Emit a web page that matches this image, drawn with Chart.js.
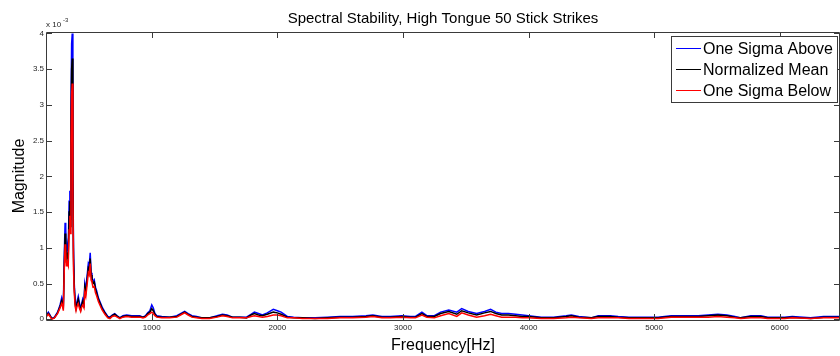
<!DOCTYPE html>
<html>
<head>
<meta charset="utf-8">
<title>Spectral Stability</title>
<script src="https://cdn.jsdelivr.net/npm/chart.js@4.4.1/dist/chart.umd.min.js"></script>
<style>
  html, body { margin: 0; padding: 0; background: #fff; }
  #wrap { width: 840px; height: 356px; }
</style>
</head>
<body>
<div id="wrap"><canvas id="spectrum" width="840" height="356"></canvas></div>
<script>
  // frequency bins (Hz) and magnitudes in units of 1e-3
  var freqHz = [
    158, 177, 190, 204, 225, 250, 270, 283, 290, 296,
    304, 310, 315, 320, 325, 330, 335, 342, 348, 352,
    357, 362, 367, 372, 377, 383, 390, 397, 405, 415,
    425, 434, 442, 450, 460, 467, 475, 485, 495, 502,
    510, 517, 524, 532, 542, 552, 561, 575, 587, 605,
    627, 650, 667, 685, 705, 725, 746, 770, 800, 840,
    880, 905, 930, 950, 968, 985, 1000, 1012, 1025, 1040,
    1080, 1143, 1200, 1240, 1262, 1290, 1320, 1357, 1400, 1460,
    1520, 1563, 1600, 1643, 1700, 1754, 1790, 1817, 1850, 1881,
    1920, 1968, 2000, 2030, 2079, 2130, 2200, 2300, 2400, 2500,
    2600, 2706, 2760, 2833, 2900, 2992, 3060, 3100, 3151, 3190,
    3250, 3300, 3365, 3429, 3468, 3520, 3587, 3650, 3698, 3740,
    3786, 3840, 3897, 3950, 4000, 4100, 4200, 4300, 4341, 4400,
    4500, 4555, 4650, 4714, 4800, 4900, 5032, 5135, 5250, 5350,
    5430, 5508, 5580, 5643, 5690, 5770, 5849, 5905, 6040, 6100,
    6246, 6350, 6480
  ];

  var sigmaAbove = [
    0.05, 0.10, 0.06, 0.01, 0.03, 0.10, 0.20, 0.30, 0.25, 0.18,
    0.93, 1.35, 1.30, 0.85, 0.98, 1.05, 0.95, 1.65, 1.80, 1.40,
    2.95, 3.85, 4.00, 2.15, 1.00, 0.50, 0.25, 0.18, 0.25, 0.32,
    0.22, 0.15, 0.22, 0.28, 0.22, 0.50, 0.42, 0.60, 0.78, 0.75,
    0.93, 0.65, 0.60, 0.52, 0.55, 0.45, 0.40, 0.30, 0.25, 0.17,
    0.10, 0.04, 0.03, 0.06, 0.08, 0.05, 0.02, 0.05, 0.06, 0.05,
    0.05, 0.05, 0.03, 0.05, 0.09, 0.12, 0.20, 0.16, 0.08, 0.05,
    0.04, 0.03, 0.05, 0.09, 0.11, 0.08, 0.05, 0.04, 0.02, 0.02,
    0.05, 0.07, 0.06, 0.03, 0.03, 0.03, 0.07, 0.10, 0.08, 0.06,
    0.09, 0.14, 0.12, 0.10, 0.04, 0.03, 0.02, 0.02, 0.03, 0.04,
    0.04, 0.05, 0.06, 0.04, 0.04, 0.05, 0.04, 0.04, 0.10, 0.05,
    0.05, 0.10, 0.13, 0.10, 0.15, 0.11, 0.08, 0.11, 0.14, 0.10,
    0.08, 0.08, 0.07, 0.06, 0.05, 0.03, 0.03, 0.05, 0.06, 0.04,
    0.02, 0.05, 0.05, 0.04, 0.03, 0.03, 0.03, 0.05, 0.05, 0.05,
    0.06, 0.07, 0.06, 0.04, 0.02, 0.05, 0.05, 0.03, 0.03, 0.04,
    0.02, 0.04, 0.04
  ];

  var normMean = [
    0.04, 0.08, 0.05, 0.01, 0.02, 0.09, 0.18, 0.26, 0.22, 0.15,
    0.80, 1.20, 1.15, 0.80, 0.90, 0.92, 0.85, 1.50, 1.65, 1.30,
    2.70, 3.50, 3.65, 1.95, 0.85, 0.45, 0.22, 0.15, 0.22, 0.28,
    0.18, 0.13, 0.20, 0.25, 0.20, 0.45, 0.38, 0.55, 0.72, 0.70,
    0.85, 0.62, 0.57, 0.50, 0.52, 0.42, 0.37, 0.28, 0.23, 0.15,
    0.09, 0.03, 0.02, 0.05, 0.07, 0.04, 0.02, 0.04, 0.05, 0.04,
    0.04, 0.04, 0.03, 0.04, 0.08, 0.10, 0.15, 0.12, 0.07, 0.04,
    0.03, 0.03, 0.04, 0.08, 0.10, 0.07, 0.04, 0.03, 0.02, 0.02,
    0.04, 0.06, 0.05, 0.03, 0.03, 0.02, 0.06, 0.08, 0.06, 0.05,
    0.07, 0.10, 0.09, 0.07, 0.03, 0.02, 0.02, 0.01, 0.02, 0.03,
    0.03, 0.04, 0.05, 0.03, 0.03, 0.04, 0.03, 0.03, 0.08, 0.04,
    0.04, 0.08, 0.11, 0.07, 0.12, 0.09, 0.06, 0.09, 0.11, 0.08,
    0.06, 0.06, 0.05, 0.04, 0.04, 0.02, 0.02, 0.04, 0.05, 0.03,
    0.02, 0.04, 0.04, 0.03, 0.02, 0.02, 0.02, 0.04, 0.04, 0.04,
    0.05, 0.06, 0.05, 0.03, 0.02, 0.04, 0.04, 0.02, 0.02, 0.03,
    0.01, 0.03, 0.03
  ];

  var sigmaBelow = [
    0.03, 0.07, 0.04, 0.00, 0.02, 0.08, 0.16, 0.22, 0.18, 0.12,
    0.72, 1.05, 0.95, 0.75, 0.80, 0.78, 0.75, 1.25, 1.45, 1.20,
    2.40, 3.15, 3.30, 1.75, 0.70, 0.38, 0.18, 0.12, 0.18, 0.22,
    0.15, 0.11, 0.17, 0.20, 0.16, 0.38, 0.32, 0.48, 0.65, 0.62,
    0.78, 0.55, 0.52, 0.45, 0.46, 0.37, 0.33, 0.25, 0.20, 0.13,
    0.07, 0.02, 0.01, 0.04, 0.05, 0.03, 0.01, 0.03, 0.04, 0.03,
    0.03, 0.03, 0.02, 0.03, 0.06, 0.08, 0.10, 0.08, 0.05, 0.03,
    0.02, 0.02, 0.03, 0.07, 0.09, 0.06, 0.03, 0.02, 0.01, 0.01,
    0.03, 0.05, 0.04, 0.02, 0.02, 0.02, 0.04, 0.05, 0.04, 0.03,
    0.04, 0.06, 0.06, 0.05, 0.02, 0.02, 0.01, 0.01, 0.01, 0.02,
    0.02, 0.03, 0.04, 0.02, 0.02, 0.03, 0.02, 0.02, 0.06, 0.03,
    0.02, 0.05, 0.08, 0.04, 0.09, 0.06, 0.03, 0.05, 0.07, 0.05,
    0.03, 0.03, 0.03, 0.02, 0.02, 0.01, 0.01, 0.02, 0.03, 0.02,
    0.01, 0.02, 0.02, 0.02, 0.01, 0.01, 0.01, 0.03, 0.03, 0.03,
    0.03, 0.04, 0.03, 0.02, 0.01, 0.02, 0.02, 0.01, 0.01, 0.02,
    0.01, 0.02, 0.02
  ];

  var xTickValues = [1000, 2000, 3000, 4000, 5000, 6000];
  var yTickValues = [0, 0.5, 1, 1.5, 2, 2.5, 3, 3.5, 4];

  var seriesNames = ["One Sigma Above", "Normalized Mean", "One Sigma Below"];
  var seriesColors = ["#0000ff", "#000000", "#ff0000"];

  var FONT = '"Liberation Sans", Arial, Helvetica, sans-serif';
  var AXIS_COLOR = "#3a3a3a";

  function toPoints(values) {
    return freqHz.map(function (f, i) { return { x: f, y: values[i] }; });
  }

  // MATLAB-ish box with inward ticks, legend, titles
  var decorations = {
    id: "decorations",
    afterDatasetsDraw: function (chart) {
      var ctx = chart.ctx;
      var a = chart.chartArea;
      var xs = chart.scales.x, ys = chart.scales.y;
      var tick = 6;

      ctx.save();
      ctx.strokeStyle = AXIS_COLOR;
      ctx.lineWidth = 1;
      ctx.beginPath();
      ctx.moveTo(a.left + 0.5, a.top + 0.5);
      ctx.lineTo(a.right - 0.5, a.top + 0.5);
      ctx.lineTo(a.right - 0.5, a.bottom + 0.5);
      ctx.lineTo(a.left + 0.5, a.bottom + 0.5);
      ctx.closePath();

      xTickValues.forEach(function (v) {
        var px = Math.round(xs.getPixelForValue(v)) + 0.5;
        ctx.moveTo(px, a.bottom);
        ctx.lineTo(px, a.bottom - tick);
        ctx.moveTo(px, a.top);
        ctx.lineTo(px, a.top + tick);
      });
      yTickValues.forEach(function (v) {
        var py = Math.round(ys.getPixelForValue(v)) + 0.5;
        ctx.moveTo(a.left, py);
        ctx.lineTo(a.left + tick, py);
        ctx.moveTo(a.right, py);
        ctx.lineTo(a.right - tick, py);
      });
      ctx.stroke();

      // legend box in the upper right corner
      var lx = 671.5, ly = 36.5, lw = 166, lh = 66;
      ctx.fillStyle = "#ffffff";
      ctx.fillRect(lx, ly, lw, lh);
      ctx.strokeStyle = AXIS_COLOR;
      ctx.strokeRect(lx, ly, lw, lh);
      ctx.font = "16px " + FONT;
      ctx.textAlign = "left";
      ctx.textBaseline = "alphabetic";
      seriesNames.forEach(function (name, i) {
        var rowY = 48 + i * 21;
        ctx.strokeStyle = seriesColors[i];
        ctx.beginPath();
        ctx.moveTo(676, rowY + 0.5);
        ctx.lineTo(701, rowY + 0.5);
        ctx.stroke();
        ctx.fillStyle = "#000";
        ctx.fillText(name, 703, rowY + 5.5);
      });

      // title and axis labels
      var cx = (a.left + a.right) / 2;
      ctx.fillStyle = "#000";
      ctx.textAlign = "center";
      ctx.font = "15px " + FONT;
      ctx.fillText("Spectral Stability, High Tongue 50 Stick Strikes", cx, 23);
      ctx.font = "16px " + FONT;
      ctx.fillText("Frequency[Hz]", cx, 350);

      ctx.save();
      ctx.translate(24, (a.top + a.bottom) / 2);
      ctx.rotate(-Math.PI / 2);
      ctx.fillText("Magnitude", 0, 0);
      ctx.restore();

      // exponent marker for the y axis
      ctx.textAlign = "left";
      ctx.fillStyle = "#262626";
      ctx.font = "8px " + FONT;
      ctx.fillText("x 10", 46, 27);
      ctx.font = "6px " + FONT;
      ctx.fillText("-3", 63, 22);
      ctx.restore();
    }
  };

  var datasets = [sigmaAbove, normMean, sigmaBelow].map(function (values, i) {
    return {
      label: seriesNames[i],
      data: toPoints(values),
      borderColor: seriesColors[i],
      backgroundColor: seriesColors[i],
      borderWidth: 1.5,
      pointRadius: 0,
      tension: 0,
      fill: false,
      order: 2 - i
    };
  });

  new Chart(document.getElementById("spectrum"), {
    type: "line",
    data: { datasets: datasets },
    options: {
      responsive: false,
      animation: false,
      devicePixelRatio: 1,
      layout: { padding: { top: 32, right: 0, bottom: 0, left: 0 } },
      plugins: {
        legend: { display: false },
        tooltip: { enabled: false },
        title: { display: false }
      },
      scales: {
        x: {
          type: "linear",
          min: 158,
          max: 6480,
          grid: { display: false, drawTicks: false },
          border: { display: false },
          afterBuildTicks: function (scale) {
            scale.ticks = xTickValues.map(function (v) { return { value: v }; });
          },
          afterFit: function (scale) { scale.height = 36; },
          ticks: {
            color: "#262626",
            font: { family: FONT, size: 8 },
            padding: 3,
            maxRotation: 0,
            callback: function (v) { return String(v); }
          }
        },
        y: {
          min: -0.01,
          max: 4.02,
          grid: { display: false, drawTicks: false },
          border: { display: false },
          afterBuildTicks: function (scale) {
            scale.ticks = yTickValues.map(function (v) { return { value: v }; });
          },
          afterFit: function (scale) { scale.width = 46; },
          ticks: {
            color: "#262626",
            font: { family: FONT, size: 8 },
            padding: 2,
            callback: function (v) { return String(v); }
          }
        }
      }
    },
    plugins: [decorations]
  });
</script>
</body>
</html>
